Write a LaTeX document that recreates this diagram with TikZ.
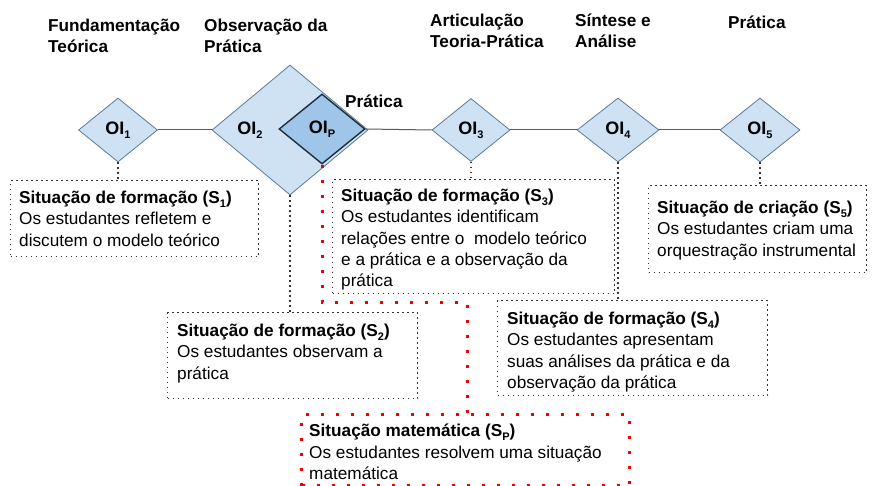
\documentclass[tikz,border=0pt]{standalone}
\usepackage{fontspec}
\setmainfont{Liberation Sans}
\usetikzlibrary{shapes.geometric}
\definecolor{dlight}{HTML}{CFE2F3}
\definecolor{ddark}{HTML}{9FC5E8}
\definecolor{dedge}{HTML}{5B7A96}
\definecolor{dedgedark}{HTML}{1F2E3D}
\definecolor{linkgrey}{HTML}{5A5A5A}
\definecolor{dotred}{HTML}{F00000}
\newcommand\subtx[1]{\raisebox{-0.45ex}{\fontsize{11}{11}\selectfont #1}}
\newcommand\bodyfont{\fontsize{17.2}{21.3}\selectfont}
\begin{document}
\begin{tikzpicture}[x=1pt,y=-1pt,
 dia/.style={diamond, draw=dedge, fill=dlight, line width=0.8pt, inner sep=0pt, font=\fontsize{18}{18}\selectfont\bfseries},
 diadark/.style={dia, fill=ddark, draw=dedgedark, line width=1.4pt},
 oitext/.style={inner sep=0pt, font=\fontsize{18}{18}\selectfont\bfseries},
 link/.style={draw=linkgrey, line width=1pt},
 blackdot/.style={line width=1.3pt, dash pattern=on 1.3pt off 3.7pt, draw=black!80},
 reddot/.style={line width=3pt, dash pattern=on 3pt off 12pt, draw=dotred},
 box/.style={blackdot, anchor=north west, inner sep=0pt},
 redbox/.style={box, reddot},
 boxtext/.style={anchor=north west, align=left, inner sep=0pt, font=\bodyfont},
 phase/.style={anchor=base west, align=left, inner sep=0pt, font=\fontsize{17.2}{21}\selectfont\bfseries}
]
\useasboundingbox (0,0) rectangle (872,486);

% phase labels (anchor = baseline of last line)
\node[phase] (ph1) at (48,53) {Fundamentação\\Teórica};
\node[phase] (ph2) at (204,53) {Observação da\\Prática};
\node[phase] (ph3) at (430,48) {Articulação\\Teoria-Prática};
\node[phase] (ph4) at (575,48) {Síntese e\\Análise};
\node[phase] (ph5) at (728,29) {Prática};
\node[phase] (php) at (345,108) {Prática};

% diamonds
\node[dia, minimum width=79pt, minimum height=64pt] (oi1) at (118,130) {OI\subtx{1}};
\node[dia, minimum width=156pt, minimum height=130pt] (oi2) at (290,130) {};
\node[oitext] (oi2t) at (250,130) {OI\subtx{2}};
\node[diadark, minimum width=86pt, minimum height=70pt] (oip) at (322,129) {OI\subtx{P}};
\node[dia, minimum width=78pt, minimum height=63pt] (oi3) at (471,130) {OI\subtx{3}};
\node[dia, minimum width=82pt, minimum height=64pt] (oi4) at (618,130) {OI\subtx{4}};
\node[dia, minimum width=80pt, minimum height=64pt] (oi5) at (760,130) {OI\subtx{5}};

\draw[link] (oi1.east) -- (oi2.west);
\draw[link] (oip.east) -- (oi3.west);
\draw[link] (oi3.east) -- (oi4.west);
\draw[link] (oi4.east) -- (oi5.west);

% boxes
\node[box, minimum width=248pt, minimum height=76pt] (s1) at (10,180) {};
\node[boxtext] (s1t) at (19,191)
 {\textbf{Situação de formação (S\subtx{1})}\\Os estudantes refletem e\\discutem o modelo teórico};
\node[box, minimum width=282pt, minimum height=114pt] (s3) at (332,179) {};
\node[boxtext] (s3t) at (341,189)
 {\textbf{Situação de formação (S\subtx{3})}\\Os estudantes identificam\\relações entre o~ modelo teórico\\e a prática e a observação da\\prática};
\node[box, minimum width=218pt, minimum height=87pt] (s5) at (648,185) {};
\node[boxtext] (s5t) at (657,201)
 {\textbf{Situação de criação (S\subtx{5})}\\Os estudantes criam uma\\orquestração instrumental};
\node[box, minimum width=250pt, minimum height=86pt] (s2) at (167,312) {};
\node[boxtext] (s2t) at (177,324)
 {\textbf{Situação de formação (S\subtx{2})}\\Os estudantes observam a\\prática};
\node[box, minimum width=270pt, minimum height=95pt] (s4) at (497,300) {};
\node[boxtext] (s4t) at (507,312)
 {\textbf{Situação de formação (S\subtx{4})}\\Os estudantes apresentam\\suas análises da prática e da\\observação da prática};
\node[redbox, minimum width=328pt, minimum height=71pt] (sp) at (300,413) {};
\node[boxtext] (spt) at (309,424)
 {\textbf{Situação matemática (S\subtx{P})}\\Os estudantes resolvem uma situação\\matemática};

% connectors
\draw[blackdot] (oi1.south) -- (oi1.south |- s1.north);
\draw[blackdot] (oi2.south) -- (oi2.south |- s2.north);
\draw[blackdot] (oi3.south) -- (oi3.south |- s3.north);
\draw[blackdot] (oi4.south) -- (oi4.south |- s4.north);
\draw[blackdot] (oi5.south) -- (oi5.south |- s5.north);
\coordinate (rbend) at (467,302);
\draw[reddot] (oip.south) |- (rbend) -- (rbend |- sp.north);
\end{tikzpicture}
\end{document}
